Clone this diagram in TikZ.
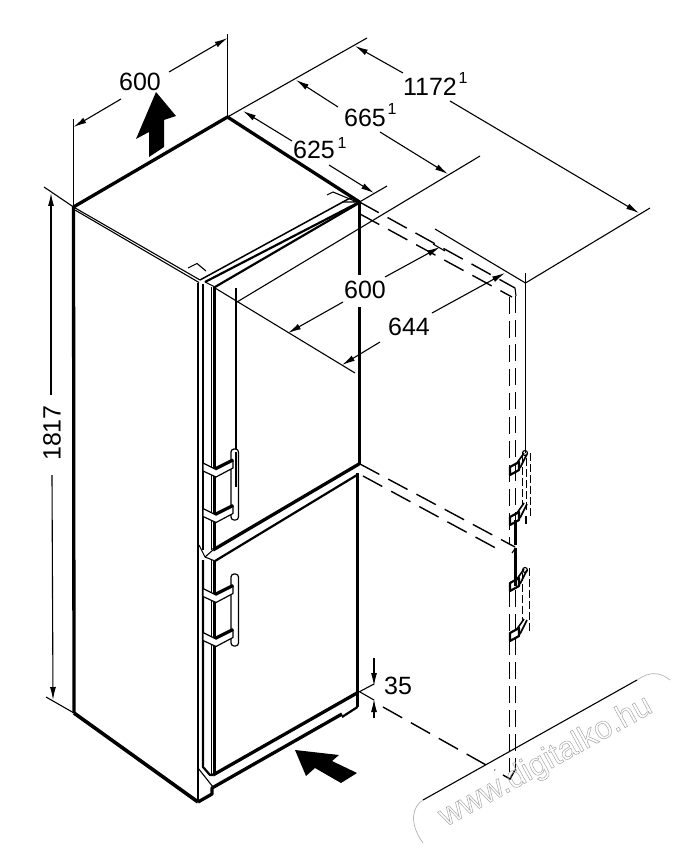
\documentclass[tikz,border=0pt]{standalone}
\usepackage{fontspec}
\setmainfont{Liberation Sans}
\usetikzlibrary{arrows.meta}
\tikzset{
  thk/.style={line width=3.3pt,line join=round},
  med/.style={line width=2.2pt,line join=round},
  thn/.style={line width=1.1pt},
  dim/.style={line width=1.1pt,-{Latex[length=13pt,width=6pt]}},
  dsh/.style={line width=1.4pt,dash pattern=on 22pt off 10pt},
  dsv/.style={line width=1.3pt,dash pattern=on 17pt off 7pt},
  hdg/.style={line width=0.8pt,dash pattern=on 8pt off 3pt},
  lab/.style={font=\fontsize{25}{25}\selectfont,inner sep=0pt},
  sup/.style={font=\fontsize{16}{16}\selectfont,inner sep=0pt},
  bigarrow/.style={fill=black,draw=none},
  bracket/.style={fill=white,draw=black,line width=1.2pt,line join=round},
  grip/.style={fill=white,draw=black,line width=1.2pt,rounded corners=3pt},
}
\begin{document}
\begin{tikzpicture}[x=1pt,y=-1pt]
\useasboundingbox (0,0) rectangle (679,850);
\fill[white] (0,0) rectangle (679,850);
% corners
\coordinate (A) at (73.5,207);
\coordinate (B) at (227.5,117);
\coordinate (C) at (359.5,202);
\coordinate (F) at (200,280);
\coordinate (Ab) at (74,713);
\coordinate (Fb) at (198,802);
\coordinate (E1) at (525.5,283);
% cabinet outline
\draw[thk] (Ab) -- (A) -- (B) -- (C);
\draw[thk,line width=3.6pt] (Ab) -- (Fb);
\draw[med,line width=2.6pt] (198,283) -- (Fb);
\draw[thn] (A) -- (F);
\draw[thn] (75,210) -- (199,282.5);
% top rectangles
\draw[thn] (188,268) -- (197,263.5) -- (206,271);
\draw[thn] (327,195) -- (333,192) -- (357,202) -- (342,202);
% top of door
\draw[thn,line width=1.5pt] (F) -- (352,197);
\draw[med] (205,282) -- (C);
\draw[med] (215,287) -- (359,203);
\draw[thn] (205,282) -- (215,287);
% door verticals upper
\draw[med] (203,284) -- (203,550);
\draw[thn] (211.5,287) -- (211.5,550);
\draw[med] (214.5,287) -- (214.5,550);
% door verticals lower
\draw[med] (203,560) -- (203,767) -- (210,775) -- (213,775);
\draw[thn] (211.5,560) -- (211.5,774);
\draw[med] (214.5,561) -- (214.5,775);
\draw[thk] (213,775) -- (357,693);
% gap between doors
\draw[thk] (213,550) -- (359,464);
\draw[med] (215,561) -- (357,475);
\draw[thn] (205,557) -- (215,561);
\draw[thn] (205,557) -- (213,550);
\draw[thn] (199,545) -- (205,557);
% right side verticals
\draw[med,line width=2.6pt] (359.5,202) -- (359.5,275);
\draw[med,line width=2.6pt] (359.5,307) -- (359.5,465);
\draw[med,line width=2.6pt] (357.5,473) -- (357.5,707);
% plinth
\draw[thk] (Fb) -- (212,794) -- (212,788) -- (342,714);
\draw[med] (342,717) -- (357.5,707);
\draw[thn] (198,768) -- (213,787);
% handle thin guide
\draw[thn] (236,288) -- (236,449);
% upper handle
\draw[grip] (231,449) rectangle (238.5,520);
\draw[med] (236,452) -- (236,487);
\foreach \d in {0,45.5} {
  \draw[bracket,yshift=-\d pt] (203,463) -- (215,469) -- (233,460) -- (233,468) -- (216,477) -- (203,471) -- cycle;
  \draw[thk,yshift=-\d pt] (215,469) -- (233,460);
}
% lower handle
\draw[grip] (231,574) rectangle (238.5,646);
\foreach \d in {125.5,169.5} {
  \draw[bracket,yshift=-\d pt] (203,463) -- (215,469) -- (233,460) -- (233,468) -- (216,477) -- (203,471) -- cycle;
  \draw[thk,yshift=-\d pt] (215,469) -- (233,460);
}
% dashed door swing
\draw[dsh] (C) -- (515,288);
\draw[dsh] (360,214) -- (512,297);
\draw[dsh] (360,464) -- (515,547);
\draw[dsh] (363,476) -- (503,552);
\draw[dsh] (383,707) -- (495,770);
\draw[thn] (515,288) -- (516,296);
\draw[thn,line width=1.4pt] (503,775) -- (510,779) -- (515,770);
\draw[dsv] (509.5,297) -- (509.5,545);
\draw[dsv] (515.5,296) -- (515.5,520);
\draw[med] (515.5,520) -- (515.5,545);
\draw[thn] (515.5,548) -- (512,553);
\draw[med] (515.5,548) -- (515.5,586);
\draw[dsv] (509.5,590) -- (509.5,772);
\draw[dsv] (515.5,590) -- (515.5,770);
% hinges
\foreach \y in {467,517,583,633} {
  \draw[med] (510,\y+8) -- (510,\y) -- (519,\y-5) -- (519,\y+3) -- cycle;
  \draw[line width=1.6pt] (517,\y-4) -- (524,\y-14);
  \draw[line width=1.6pt] (520,\y+1) -- (527,\y-13);
}
\draw[thn] (525,453) circle (2.5);
\draw[thn] (525,570) circle (2.5);
\draw[hdg] (522,456) -- (522,505);
\draw[hdg] (526.5,458) -- (526.5,512);
\draw[hdg] (530,453) -- (530,518);
\draw[thn] (526,516) -- (526,524);
\draw[hdg] (522,573) -- (522,620);
\draw[hdg] (529,568) -- (529,632);
% extension lines
\draw[thn] (A) -- (73.5,119);
\draw[thn] (B) -- (227.5,34);
\draw[thn] (B) -- (367,38);
\draw[thn] (C) -- (387,186);
\draw[thn] (237,302) -- (480,156);
\draw[thn] (44,187) -- (A);
\draw[thn] (46,697) -- (Ab);
\draw[thn] (215,288) -- (355,373);
\draw[thn] (E1) -- (435,229);
\draw[thn] (E1) -- (650,208);
\draw[thn] (525.5,273) -- (525.5,453);
\draw[thn] (433,244) -- (445,251);
% dimension lines
\draw[dim] (121,99) -- (73.5,127);
\draw[dim] (169,72) -- (227.5,38);
\draw[dim] (292,141) -- (243,111);
\draw[dim] (329,165) -- (374,193);
\draw[dim] (338,107) -- (296,80);
\draw[dim] (380,132) -- (448,174);
\draw[dim] (403,73) -- (355,46);
\draw[dim] (450,101) -- (639,213);
\draw[dim] (343,302) -- (288,333);
\draw[dim] (385,277) -- (440,247);
\draw[dim] (380,342) -- (342,365);
\draw[dim] (432,313) -- (505,273);
\draw[dim] (51,395) -- (51,193);
\draw[dim] (52,475) -- (53,700);
\draw[dim] (374,658) -- (374,686);
\draw[dim] (374,718) -- (374,699);
\draw[thn] (357,693) -- (374,684);
\draw[thn] (360,692) -- (374,700);
% solid arrows
\draw[bigarrow,fill] (156,92) -- (176,116) -- (164,120) -- (164,147) -- (149,157) -- (149,132) -- (136,139) -- cycle;
\draw[bigarrow,fill] (295,750) -- (339,755) -- (332,761) -- (357,773) -- (341,783) -- (315,768) -- (306,776) -- cycle;
% labels
\node[lab] (l600a) at (140,82) {600};
\node[lab] (l625) at (314,150) {625};
\node[sup] (l625s) at (342,143) {1};
\node[lab] (l665) at (365,118) {665};
\node[sup] (l665s) at (392,109) {1};
\node[lab] (l1172) at (430,87) {1172};
\node[sup] (l1172s) at (463,78) {1};
\node[lab] (l600b) at (365,290) {600};
\node[lab] (l644) at (409,327) {644};
\node[lab,rotate=90] (l1817) at (52,433) {1817};
\node[lab] (l35) at (398,686) {35};
% watermark frame
\draw[thn] (423,800) -- (637,680);
\draw[line width=0.7pt,gray!60] (423,800) .. controls (413,806) and (408,822) .. (423,843);
\draw[line width=0.7pt,gray!60] (637,680) .. controls (650,671) and (660,672) .. (670,680);
\node[inner sep=0pt,rotate=29,font=\fontsize{32}{32}\selectfont] (wm) at (546,762) {\special{pdf:code 1 Tr 0.5 w 0.65 G}www.digitalko.hu\special{pdf:code 0 Tr}};
\end{tikzpicture}
\end{document}
